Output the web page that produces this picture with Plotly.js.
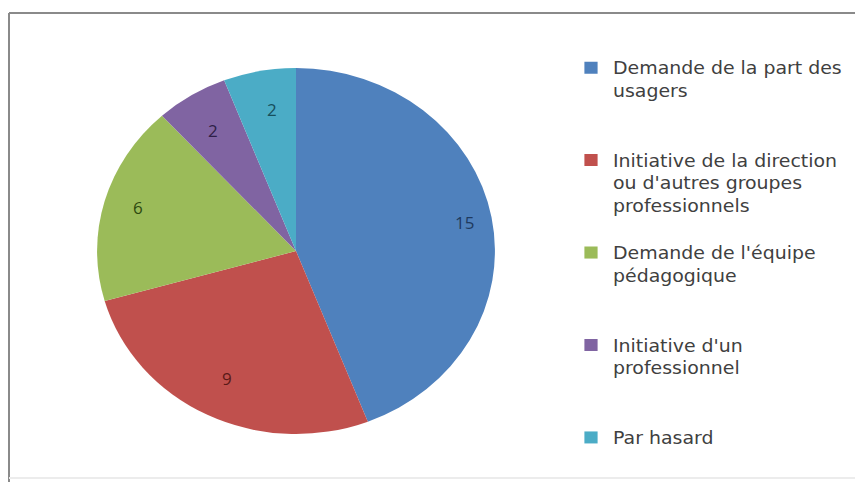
<!DOCTYPE html>
<html>
<head>
<meta charset="utf-8">
<script src="https://cdn.plot.ly/plotly-3.0.1.min.js"></script>
<style>html,body{margin:0;padding:0;background:#fff;}#chart{width:855px;height:482px;}</style>
</head>
<body>
<div id="chart"></div>
<script>
// ---- data ----
const categories = [
  "Demande de la part des<br>usagers",
  "Initiative de la direction<br>ou d'autres groupes<br>professionnels",
  "Demande de l'équipe<br>pédagogique",
  "Initiative d'un<br>professionnel",
  "Par hasard"
];
const values = [15, 9, 6, 2, 2];
const sliceColors = ["#4F81BD", "#C0504D", "#9BBB59", "#8064A2", "#4BACC6"];
const labelColors = ["#1F3A5F", "#5A1A18", "#2E4A10", "#2E1F47", "#174F5C"];

// ---- geometry ----
const W = 855, H = 482;
const cx = 296, cy = 251, R = 183;
const stretch = 1.087;   // reference pie is slightly wider than tall
const legendStretch = 1.1;
const rFrac = 0.86;

// pad legend entries to equal height (4 lines each), last one unpadded
const legendLabels = categories.map((c, idx) => {
  const n = c.split("<br>").length;
  let s = c;
  if (idx < categories.length - 1) for (let i = n; i < 4; i++) s += "<br> ";
  return s;
});

// annotations for slice values computed from data
const total = values.reduce((a, b) => a + b, 0);
let cum = 0;
const annotations = values.map((v, i) => {
  const th = 2 * Math.PI * (cum + v / 2) / total;
  cum += v;
  const px = cx + stretch * rFrac * R * Math.sin(th);
  const py = cy - rFrac * R * Math.cos(th);
  return {
    x: px / W, y: 1 - py / H, xref: "paper", yref: "paper",
    text: String(v), showarrow: false,
    font: {family: "Open Sans, sans-serif", size: 17, color: labelColors[i]}
  };
});

const trace = {
  type: "pie",
  labels: legendLabels,
  values: values,
  sort: false,
  direction: "clockwise",
  rotation: 0,
  textinfo: "none",
  hoverinfo: "label+value",
  marker: {colors: sliceColors, line: {width: 0}},
  domain: {x: [(cx - R) / W, (cx + R) / W], y: [1 - (cy + R) / H, 1 - (cy - R) / H]}
};

const layout = {
  width: W, height: H,
  margin: {l: 0, r: 0, t: 0, b: 0},
  paper_bgcolor: "#ffffff",
  showlegend: true,
  legend: {
    x: 569 / W, y: 1 - 50 / H, xanchor: "left", yanchor: "top",
    valign: "top",
    font: {family: "DejaVu Sans, sans-serif", size: 17.2, color: "#404040"},
    bgcolor: "rgba(0,0,0,0)"
  },
  annotations: annotations,
  shapes: [
    {type: "line", xref: "paper", yref: "paper", x0: 9 / W, x1: 1.01, y0: 1 - 13 / H, y1: 1 - 13 / H,
     line: {color: "#8a8a8a", width: 2}},
    {type: "line", xref: "paper", yref: "paper", x0: 9 / W, x1: 9 / W, y0: 1 - 13 / H, y1: -0.01,
     line: {color: "#8a8a8a", width: 2}},
    {type: "line", xref: "paper", yref: "paper", x0: 9 / W, x1: 1.01, y0: 1 - 478 / H, y1: 1 - 478 / H,
     line: {color: "#ececec", width: 2}}
  ]
};

Plotly.newPlot("chart", [trace], layout, {displayModeBar: false, staticPlot: true}).then(gd => {
  const pl = gd.querySelector(".pielayer");
  if (pl) pl.setAttribute("transform",
    "translate(" + cx + ",0) scale(" + stretch + ",1) translate(" + (-cx) + ",0)");
  const lg = gd.querySelector(".legend");
  if (lg) lg.setAttribute("transform", (lg.getAttribute("transform") || "") + " scale(" + legendStretch + ",1)");
});
</script>
</body>
</html>
